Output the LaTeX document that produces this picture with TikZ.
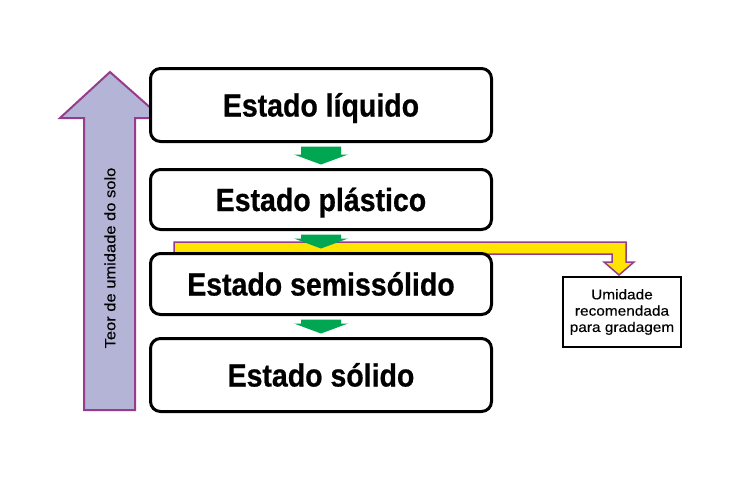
\documentclass[tikz,border=0pt]{standalone}
\usepackage{fontspec}
\setmainfont{Liberation Sans}
\newfontfamily\boxfont[FakeStretch=0.89,FakeBold=0.6]{Liberation Sans Bold}
\newfontfamily\labfont[FakeStretch=1.1,FakeBold=0.3]{Liberation Sans}
\usetikzlibrary{calc}
\definecolor{greenA}{RGB}{0,166,81}
\definecolor{purpA}{RGB}{150,60,140}
\definecolor{lavA}{RGB}{180,180,214}
\definecolor{yellowA}{RGB}{255,228,0}
\tikzset{
  statebox/.style={draw=black, line width=3pt, rounded corners=10pt, fill=white,
    minimum width=341pt, inner sep=0pt, text height=23pt, text depth=0pt,
    font=\boxfont\fontsize{32}{36}\selectfont},
  notebox/.style={draw=black, line width=2pt, fill=white, minimum width=118pt,
    minimum height=70pt, inner sep=0pt, align=center,
    font=\labfont\fontsize{14}{16.3}\selectfont},
  greenarr/.style={fill=greenA},
  yellowarr/.style={fill=yellowA, draw=purpA, line width=1.5pt, line join=miter},
  lavarr/.style={fill=lavA, draw=purpA, line width=2pt, line join=miter},
}
\newcommand{\gArrow}[2]{%
  \fill[greenarr] let \p1=(#1.south), \p2=(#2.north) in
    (\x1-20pt,\y1-3.5pt) -- (\x1-20pt,\y2+13.5pt) -- (\x1-27pt,\y2+13.5pt) --
    (\x1,\y2+3.5pt) -- (\x1+27pt,\y2+13.5pt) -- (\x1+20pt,\y2+13.5pt) --
    (\x1+20pt,\y1-3.5pt) -- cycle;}
\begin{document}
\begin{tikzpicture}[x=1pt,y=-1pt]
\useasboundingbox (0,0) rectangle (739,480);
\fill[white] (0,0) rectangle (739,480);
% moisture arrow
\filldraw[lavarr] (84,410) -- (84,118) -- (60,118) -- (110,72) -- (162,118) --
  (135,118) -- (135,410) -- cycle;
\node[rotate=90, font=\labfont\fontsize{15}{18}\selectfont] (teor) at (110,258) {Teor de umidade do solo};
% note box
\node[notebox] (umid) at (622,312) {Umidade\\recomendada\\para gradagem};
% yellow connector
\coordinate (ystart) at (174,248);
\filldraw[yellowarr] let \p1=(ystart), \p2=([xshift=-3pt]umid.north) in
  (\x1,\y1+6pt) -- (\x2+7pt,\y1+6pt) -- (\x2+7pt,\y2+14pt) -- (\x2+15pt,\y2+14pt) --
  (\x2,\y2+1pt) -- (\x2-15pt,\y2+14pt) -- (\x2-7pt,\y2+14pt) -- (\x2-7pt,\y1-6pt) --
  (\x1,\y1-6pt) -- cycle;
% state boxes
\node[statebox, minimum height=73pt] (liq) at (321,105) {Estado líquido};
\node[statebox, minimum height=60pt] (plast) at (321,199.5) {Estado plástico};
\node[statebox, minimum height=61pt] (sem) at (321,284) {Estado semissólido};
\node[statebox, minimum height=73pt] (sol) at (321,375) {Estado sólido};
% green arrows
\gArrow{liq}{plast}
\gArrow{plast}{sem}
\gArrow{sem}{sol}
\end{tikzpicture}
\end{document}
